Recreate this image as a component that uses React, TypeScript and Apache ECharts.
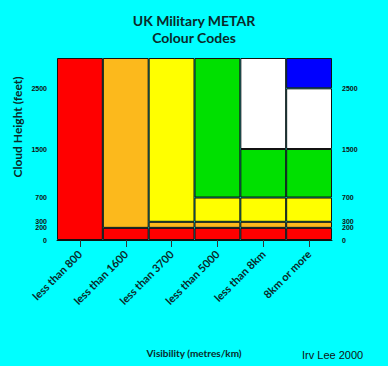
import React, { useEffect, useRef } from "react";
import * as echarts from "echarts";

const categories = ["less than 800", "less than 1600", "less than 3700", "less than 5000", "less than 8km", "8km or more"];
// band thickness (feet) per column, stacked bottom-up
const redBand = [3000, 200, 200, 200, 200, 200];
const orangeBand = [null, 2800, 100, 100, 100, 100];
const yellowBand = [null, null, 2700, 400, 400, 400];
const greenBand = [null, null, null, 2300, 800, 800];
const whiteBand = [null, null, null, null, 1500, 1000];
const blueBand = [null, null, null, null, null, 500];
const yTickValues = [0, 200, 300, 700, 1500, 2500];

const bands: [string, (number | null)[], string][] = [
  ["Red", redBand, "#ff0000"],
  ["Amber", orangeBand, "#fcb91c"],
  ["Yellow", yellowBand, "#ffff00"],
  ["Green", greenBand, "#00e000"],
  ["White", whiteBand, "#ffffff"],
  ["Blue", blueBand, "#0000ff"],
];

export default function App() {
  const ref = useRef<HTMLDivElement>(null);
  useEffect(() => {
    if (!ref.current) return;
    const chart = echarts.init(ref.current, null, { renderer: "svg" });
    const yLabel = {
      fontSize: 7,
      fontWeight: "bold",
      fontFamily: "Liberation Sans",
      color: "#111",
      margin: 10,
      formatter: (v: number) => (yTickValues.includes(v) ? String(v) : ""),
    };
    const yBase = {
      type: "value",
      min: 0,
      max: 3000,
      interval: 100,
      splitLine: { show: false },
      axisTick: { show: false },
      axisLine: { show: false },
    };
    chart.setOption({
      animation: false,
      backgroundColor: "#00ffff",
      title: {
        text: "UK Military METAR\nColour Codes",
        left: "center",
        top: 12,
        padding: 0,
        textStyle: {
          fontFamily: "Lato",
          fontWeight: "bold",
          fontSize: 14,
          lineHeight: 17,
          color: "#0a2a2a",
        },
      },
      grid: { left: 57, right: 56, top: 58, bottom: 126, containLabel: false },
      xAxis: {
        type: "category",
        data: categories,
        boundaryGap: true,
        axisLine: { show: true, lineStyle: { color: "#111" } },
        axisTick: { show: true, alignWithLabel: true, length: 7, lineStyle: { color: "#333" } },
        axisLabel: {
          rotate: 45,
          interval: 0,
          fontFamily: "Lato",
          fontWeight: "bold",
          fontSize: 11,
          color: "#0a2a2a",
          margin: 12,
        },
      },
      yAxis: [
        { ...yBase, position: "left", axisLabel: yLabel },
        { ...yBase, position: "right", axisLabel: yLabel },
      ],
      series: bands.map(([name, data, color]) => ({
        name,
        type: "bar",
        stack: "all",
        data,
        barWidth: "100%",
        itemStyle: { color, borderColor: "#111", borderWidth: 1 },
      })),
      graphic: [
        {
          type: "text",
          x: 17,
          y: 127,
          rotation: Math.PI / 2,
          style: {
            text: "Cloud Height (feet)",
            fontFamily: "Lato",
            fontWeight: "bold",
            fontSize: 12,
            fill: "#0a2a2a",
            align: "center",
            verticalAlign: "middle",
          },
        },
        {
          type: "text",
          x: 194,
          y: 353,
          style: {
            text: "Visibility (metres/km)",
            fontFamily: "Lato",
            fontWeight: "bold",
            fontSize: 10,
            fill: "#0a2a2a",
            align: "center",
            verticalAlign: "middle",
          },
        },
        {
          type: "text",
          x: 302,
          y: 355,
          style: {
            text: "Irv Lee 2000",
            fontFamily: "Liberation Sans",
            fontSize: 11,
            fill: "#111",
            align: "left",
            verticalAlign: "middle",
          },
        },
      ],
    });
    return () => chart.dispose();
  }, []);
  return (
    <div
      ref={ref}
      style={{ position: "fixed", left: 0, top: 0, width: 388, height: 366 }}
    />
  );
}
